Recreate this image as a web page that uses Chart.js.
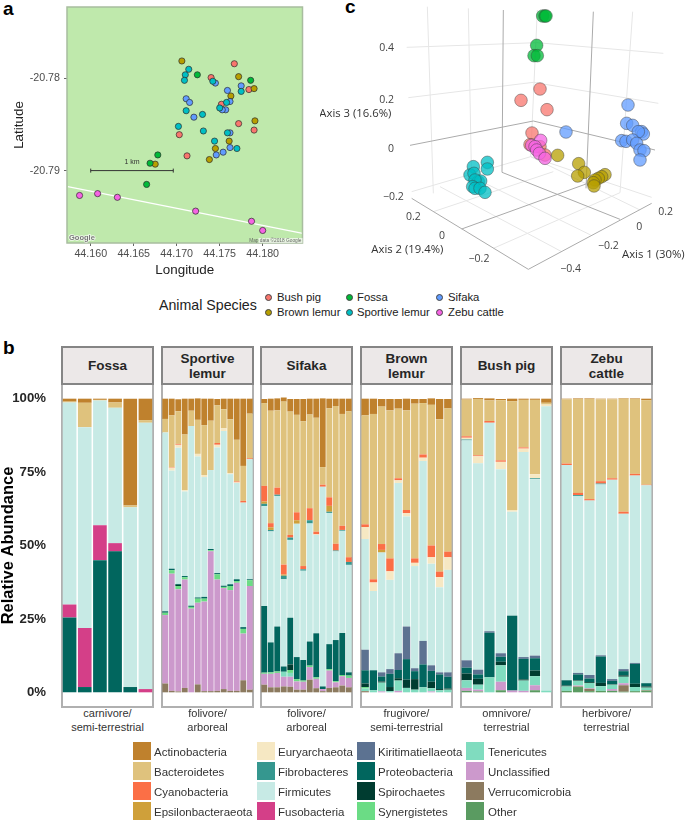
<!DOCTYPE html>
<html><head><meta charset="utf-8">
<script src="https://cdn.jsdelivr.net/npm/chart.js@4"></script>
<style>
html,body{margin:0;padding:0;background:#fff;width:685px;height:822px;overflow:hidden}
body{position:relative;font-family:"Liberation Sans",Arial,sans-serif}
canvas{position:absolute}
.t{position:absolute;white-space:nowrap}
.tag{font-weight:bold;font-size:19px;color:#000;line-height:19px}
.strip{position:absolute;box-sizing:border-box;background:#ece8e8;border:2px solid #858585;display:flex;align-items:center;justify-content:center;text-align:center;font-weight:bold;font-size:13.5px;line-height:15px;color:#262626}
.panel{position:absolute;box-sizing:border-box;background:#fff;border:2px solid #b0b0b0;border-top:none}
.cap{position:absolute;text-align:center;font-size:11px;line-height:13.5px;color:#333;white-space:nowrap}
.sw{position:absolute;width:18px;height:18px}
.lg{position:absolute;font-size:11.5px;line-height:14px;color:#333;white-space:nowrap}
.dot{position:absolute;width:5px;height:5px;border-radius:50%;border:.7px solid #444}
.sp{position:absolute;font-size:11.3px;line-height:14px;color:#222;white-space:nowrap}
</style></head><body>
<div class="t tag" style="left:3px;top:-1px">a</div>
<div class="t tag" style="left:345px;top:-3px">c</div>
<div class="t tag" style="left:3px;top:338px">b</div>
<canvas id="map" width="320" height="280" style="left:0;top:0"></canvas>
<canvas id="pcoa" width="365" height="280" style="left:320px;top:0"></canvas>
<div class="t" style="left:159px;top:296px;font-size:14.2px;line-height:18px;color:#222">Animal Species</div>
<div id="legendA"></div>
<div id="facets"></div>
<div id="legendB"></div>
<script>
// ---------- Panel a: site map ----------
const speciesNames = ["Bush pig","Brown lemur","Fossa","Sifaka","Sportive lemur","Zebu cattle"];
const speciesColors = ["#f8766d","#b79f00","#00ba38","#619cff","#00bfc4","#f564e3"];
const lonTicks = [44.160,44.165,44.170,44.175,44.180];
const latTicks = [-20.78,-20.79];
const bushPigSites = [[44.1767,-20.7784],[44.1740,-20.7799],[44.1784,-20.7812],[44.1752,-20.7828],[44.1772,-20.7849],[44.1790,-20.7856],[44.1703,-20.7861],[44.1712,-20.7884]];
const brownLemurSites = [[44.1706,-20.7781],[44.1772,-20.7798],[44.1790,-20.7811],[44.1763,-20.7819],[44.1791,-20.7846],[44.1761,-20.7868],[44.1745,-20.7876],[44.1738,-20.7888],[44.1675,-20.7893]];
const fossaSites = [[44.1724,-20.7796],[44.1786,-20.7802],[44.1678,-20.7883],[44.1669,-20.7892],[44.1665,-20.7915]];
const sifakaSites = [[44.1745,-20.7805],[44.1759,-20.7813],[44.1775,-20.7808],[44.1711,-20.7822],[44.1715,-20.7826],[44.1762,-20.7825],[44.1757,-20.7834],[44.1753,-20.7834],[44.1720,-20.7842],[44.1762,-20.7859],[44.1762,-20.7875],[44.1754,-20.7880],[44.1746,-20.7883]];
const sportiveSites = [[44.1714,-20.7790],[44.1710,-20.7796],[44.1709,-20.7802],[44.1742,-20.7803],[44.1775,-20.7814],[44.1758,-20.7826],[44.1750,-20.7832],[44.1711,-20.7835],[44.1730,-20.7839],[44.1702,-20.7852],[44.1731,-20.7857],[44.1759,-20.7859],[44.1744,-20.7868],[44.1770,-20.7876]];
const zebuSites = [[44.1587,-20.7927],[44.1608,-20.7925],[44.1631,-20.7929],[44.1722,-20.7944],[44.1787,-20.7955],[44.1800,-20.7965]];
const roadLine = [[44.15733,-20.79174],[44.18465,-20.79681]];
const scaleBar = [[44.1600,-20.7900],[44.1696,-20.7900]];

// ---------- Panel c: PCoA view (positions as read on the picture's view plane) ----------
const fossaPcoa = [[668,48],[675,48],[678,48],[650,136],[642,167],[652,167]];
const bushPigPcoa = [[660,267],[603,301],[681,329],[636,399],[630,434],[660,440],[675,465]];
const sifakaPcoa = [[738,396],[924,315],[920,370],[938,376],[965,395],[970,402],[955,395],[905,422],[918,424],[938,420],[950,430],[960,450],[972,452],[960,480]];
const brownPcoa = [[713,466],[776,491],[793,517],[773,528],[855,524],[845,530],[835,535],[825,540],[820,548],[822,558]];
const sportivePcoa = [[502,487],[502,507],[460,500],[450,525],[462,520],[475,545],[482,543],[465,540],[458,560],[465,565],[480,565],[495,577]];
const zebuPcoa = [[662,421],[635,436],[645,440],[650,450],[658,460],[675,475]];
const gridLight = [[260,142,650,128],[650,128,1030,160],[265,293,640,247],[640,247,1015,310],[275,575,632,470],[632,470,995,592],[652,30,632,470],[322,20,340,580],[445,25,455,555],[938,35,900,578],[340,635,700,515],[520,745,900,578],[725,755,360,560],[812,705,455,530],[960,630,632,470]];
const gridDark = [[550,30,546,517],[820,35,798,565],[270,436,640,363],[640,363,1005,450],[546,517,900,658],[798,552,425,687],[275,595,625,808],[625,808,995,610]];
const pcoaTickText = [["0.4",200,143],["0.2",200,299],["0",213,448],["−0.2",220,590],["0.2",280,652],["0",366,708],["−0.2",477,778],["−0.4",752,806],["−0.2",865,737],["0",958,682],["0.2",1037,636]];
const pcoaAxisText = [["Axis 3 (16.6%)",106,340],["Axis 2 (19.4%)",262,748],["Axis 1 (30%)",1000,763]];

// ---------- Panel b: relative abundance ----------
const phyla = ["Actinobacteria","Bacteroidetes","Cyanobacteria","Epsilonbacteraeota","Euryarchaeota","Fibrobacteres","Firmicutes","Fusobacteria","Kiritimatiellaeota","Proteobacteria","Spirochaetes","Synergistetes","Tenericutes","Unclassified","Verrucomicrobia","Other"];
const phylaColors = ["#bf812d","#dfc27d","#fb6f46","#cfa03a","#f6e8c3","#35978f","#c7eae5","#d43f88","#5c7291","#01665e","#003c30","#6bdc85","#80dcbf","#cc99cc","#8c7a5f","#5a9b61"];
const facetNames = [["Fossa"],["Sportive","lemur"],["Sifaka"],["Brown","lemur"],["Bush pig"],["Zebu","cattle"]];
const dietLabels = [["carnivore/","semi-terrestrial"],["folivore/","arboreal"],["folivore/","arboreal"],["frugivore/","semi-terrestrial"],["omnivore/","terrestrial"],["herbivore/","terrestrial"]];
const percentTicks = [0,25,50,75,100];
// each row: one sample, values in the order of `phyla`
const fossaBars = [
[1,.3,0,0,0,0,68.8,4.4,0,25.5],
[1.4,8.3,0,0,0,0,68.4,20.1,0,1.8],
[.4,.2,0,0,0,0,42.5,11.9,0,45],
[1.3,1.8,0,0,0,0,46.1,2.8,0,48],
[36.4,.6,0,0,0,0,61.2,0,0,1.8],
[7.3,.9,0,0,0,0,90.7,1.1]];
const sportiveBars = [
[6.9,4.6,0,0,0,0,60.9,0,0,.5,0,.8,0,23.3,3],
[5.7,17.6,.2,0,1,0,33.4,0,0,.5,0,1.2,0,39.9,.5],
[4.1,11.1,.3,0,1,0,46.4,0,0,.3,.4,1.1,0,34.8,.3],
[12.2,19,0,0,.4,0,28.8,0,0,.4,0,.8,0,36.9,1.5],
[4.1,5.2,0,0,0,0,61.2,0,0,.4,0,.6,0,28.5],
[7.3,11.6,0,0,.9,0,48,0,0,.4,0,1.4,0,27.8,2.7],
[9,17,0,0,.7,0,40.8,0,0,.6,0,1,0,30.5,.4],
[7.5,16.8,0,0,0,0,26.9,0,0,.4,0,.4,0,47.6,.4],
[2.2,12.8,.6,0,.9,0,42.8,0,0,.4,0,1.8,0,37.9,.5],
[3.6,6.5,0,0,.9,0,52.7,0,0,.4,0,.4,0,34.4,1.1],
[7,18.4,0,0,.3,0,37.5,0,0,.6,0,1.4,0,34.3,.5],
[14,14.2,.3,0,.2,0,32.8,0,0,.6,0,.6,0,36.8,.5],
[22.9,11.9,.6,0,0,0,42.4,0,0,.6,0,1.6,0,15.9,4.1],
[5.1,15.2,.3,0,0,0,40.9,0,0,.3,0,2,0,35.3,.9]];
const sifakaBars = [
[1.4,28.2,5.3,.8,0,.8,34,0,0,22.7,0,.4,0,3.7,2.6],
[4.1,38.3,1.4,.9,0,.5,37.8,0,0,10.2,0,.5,0,4.6,1.7],
[4.1,26.3,2.4,0,0,.4,44.5,0,0,15.3,0,.5,0,4.9,1.7],
[1.4,55.5,3.4,.4,0,1.2,29.7,0,0,1.8,0,0,1.7,3.3,2],
[4.3,42,.9,0,0,.8,26.5,0,0,15.9,1.9,1,1.3,3.4,1.9],
[5.4,33.2,2.7,1.2,0,0,45.4,0,0,7.5,0,.8,0,2.8,.9],
[7.6,49.3,1.1,0,0,.5,30.4,0,0,7,0,.4,0,2.7,.9],
[5.4,31.9,4.1,0,0,1.1,40.2,0,0,8.2,0,.5,0,4.3,4.3],
[6.5,38.8,.9,0,.2,0,33.5,0,0,15,0,.5,0,3.2,1.4],
[23.4,6,.7,0,0,0,68,0,0,.9,0,0,0,.7,.4],
[3.3,30.3,2.9,2,0,.4,44.7,0,0,8.5,0,.5,0,5.9,1.5],
[2.5,46.9,2.3,0,0,.3,30.2,0,0,14,0,.4,0,1.7,1.7],
[5.2,38.1,1.4,0,0,.3,34.8,0,0,14.3,0,.4,0,3.2,2.3],
[4.3,49.7,1.6,0,0,1,36.6,0,0,1.1,0,.8,0,3.2,1.7]];
const brownLemurBars = [
[5.7,37.1,.9,0,4.1,0,37.7,0,7,4.5,1.2,.5,.9,0,.4],
[5.2,56.3,1.1,0,2.9,0,27,0,0,6.8,0,0,.7],
[2.6,46.8,2,.9,0,0,40.8,0,1.4,1.7,.4,0,3,.3],
[3.9,50.4,4.4,0,2.9,0,30.4,0,1.6,4.5,1.4,0,.4],
[3.3,23.7,.7,0,.9,0,58,0,5.7,2.8,.8,0,3.5,.5],
[4,33.9,1.1,0,1.1,0,37.5,0,11.1,7,2.8,0,1.5],
[1.6,52.7,1.5,0,1.1,0,34.8,0,1,2.7,3.6,0,.9],
[1.4,17.5,1.1,0,1.1,0,61.3,0,8,7.8,0,0,1.7],
[2.2,47.9,4,0,2.2,0,34.6,0,1.9,3.7,2.2,0,1.1,.3],
[6.9,51.9,1.9,0,3.4,0,29,0,.7,5,.4,0,.7],
[3.2,48.8,1.9,0,4.3,0,34.9,0,1.5,4,.4,0,.9]];
const bushPigBars = [
[.3,12.5,.5,0,.6,.3,74.9,0,2.5,2,2.3,0,2.6,1,0,.5],
[.3,19.2,.3,0,2.4,0,70.3,0,1.6,1.5,2,0,1.7,.6,0,.3],
[.7,7,.6,0,0,0,71,0,.5,15.2,0,0,5.1],
[.4,20.5,.5,0,2.5,0,62.7,0,1.2,1.7,1.2,0,5.6,2.9,0,.7],
[.9,37,0,0,.6,0,35.4,0,0,25.5,0,0,0,.6],
[.4,16.2,.4,0,1.2,0,69.8,0,.6,7,.4,0,3.5,.5],
[.4,25.3,0,0,1.4,.3,60.1,0,.9,4.2,1.9,0,3.1,1.7,0,.7],
[1.4,.6,0,0,.6,0,96.8,0,0,0,0,0,.6]];
const zebuBars = [
[.2,21.9,.5,0,0,0,73.3,0,0,1.8,.3,0,1.5,0,0,.5],
[.2,32,.7,0,0,.3,60.3,0,.5,2,.2,0,1.6,.3,.2,1.8],
[.2,34.1,.5,0,0,0,59.4,0,1.2,1.2,.3,0,1.8,.2,.8,.4],
[.2,27.9,.8,0,0,.3,58.2,0,.4,9,1.1,0,1.6,0,0,.5],
[.2,26.9,.5,0,0,0,67.9,0,.6,1.1,.2,0,1.5,.6,0,.5],
[.2,38.5,.7,0,0,0,52.9,0,.7,1.4,.5,0,2.2,.7,2.2,.2],
[.2,25.5,.6,0,0,0,63.8,0,.3,6.8,1.1,0,1.4,0,0,.4],
[.5,28.8,.2,0,0,0,67.4,0,0,1.1,.4,0,.9,0,.2,.5]];
const allBars = [fossaBars,sportiveBars,sifakaBars,brownLemurBars,bushPigBars,zebuBars];

// ---------- layout only ----------
const facetLeft = [61,161,260,360,460,560];
Chart.defaults.font.family = '"Liberation Sans",Arial,sans-serif';
Chart.defaults.animation = false;
Chart.defaults.responsive = false;
Chart.defaults.devicePixelRatio = 1;
const toXY = a => a.map(p => ({x:p[0],y:p[1]}));
const noPad = s => {s.paddingTop=0;s.paddingBottom=0;s.paddingLeft=0;s.paddingRight=0;};

// Panel a
const mapDecor = {
  id:'mapDecor',
  beforeDatasetsDraw(c){
    const {ctx,chartArea:A} = c;
    ctx.save();
    ctx.fillStyle='#bfe9ac';
    ctx.fillRect(A.left,A.top,A.width,A.height);
    ctx.restore();
  },
  afterDatasetsDraw(c){
    const {ctx,chartArea:A} = c;
    ctx.save();
    ctx.strokeStyle='#a8bd9f'; ctx.lineWidth=1.5;
    ctx.strokeRect(A.left,A.top,A.width,A.height);
    ctx.fillStyle='#333'; ctx.font='7px "Liberation Sans"'; ctx.textAlign='center'; ctx.textBaseline='middle';
    ctx.fillText('1 km',c.scales.x.getPixelForValue(44.1648),c.scales.y.getPixelForValue(-20.7892)-1);
    ctx.fillStyle='rgba(255,255,255,.65)'; ctx.fillRect(A.right-44,A.bottom-5,44,5);
    ctx.fillStyle='#666'; ctx.font='4.8px "Liberation Sans"'; ctx.textAlign='right';
    ctx.fillText('Map data ©2018 Google',A.right-1,A.bottom-2.5);
    ctx.font='bold 7.5px "Liberation Sans"'; ctx.textAlign='left';
    ctx.lineWidth=1.5; ctx.strokeStyle='rgba(255,255,255,.8)';
    ctx.strokeText('Google',A.left+2,A.bottom-5);
    ctx.fillStyle='#777'; ctx.fillText('Google',A.left+2,A.bottom-5);
    ctx.restore();
  }
};
const siteSets = [zebuSites,sportiveSites,sifakaSites,fossaSites,brownLemurSites,bushPigSites];
const siteIdx = [5,4,3,2,1,0];
new Chart(document.getElementById('map'),{
  type:'scatter',
  data:{datasets:[
    ...siteSets.map((s,i)=>({label:speciesNames[siteIdx[i]],data:toXY(s),backgroundColor:speciesColors[siteIdx[i]],borderColor:'#2b2b2b',borderWidth:.7,pointRadius:3.1})),
    {label:'1 km',data:toXY(scaleBar),showLine:true,borderColor:'#333',borderWidth:1,pointStyle:'line',pointRotation:90,pointRadius:2,pointBorderColor:'#333',pointBorderWidth:1},
    {label:'road',data:toXY(roadLine),showLine:true,borderColor:'#fff',borderWidth:1.2,pointRadius:0}
  ]},
  options:{
    layout:{padding:{top:7,right:17.5,left:0,bottom:0},autoPadding:false},
    plugins:{legend:{display:false},tooltip:{enabled:false}},
    scales:{
      x:{min:44.15724,max:44.18463,grid:{drawOnChartArea:false,tickLength:3,color:'#666'},border:{display:false},
        afterBuildTicks(s){s.ticks=lonTicks.map(v=>({value:v}))},afterFit(s){s.height=37;noPad(s)},
        ticks:{color:'#4d4d4d',font:{size:10.7},padding:2,maxRotation:0,callback:v=>v.toFixed(3)},
        title:{display:true,text:'Longitude',color:'#222',font:{size:13.4},padding:2}},
      y:{min:-20.79786,max:-20.77224,grid:{drawOnChartArea:false,tickLength:3,color:'#666'},border:{display:false},
        afterBuildTicks(s){s.ticks=latTicks.map(v=>({value:v}))},afterFit(s){s.width=67;noPad(s)},
        ticks:{color:'#4d4d4d',font:{size:10.7},padding:4,callback:v=>v.toFixed(2)},
        title:{display:true,text:'Latitude',color:'#222',font:{size:13.4},padding:11}}
    }
  },
  plugins:[mapDecor]
});

// Legend a
const lgA=document.getElementById('legendA');
const spPos=[[268,297],[268,312],[349,297],[439,297],[349,312],[439,312]];
const spTxt=[277,277,357,448,357,448];
speciesNames.forEach((n,i)=>{
  const d=document.createElement('div');d.className='dot';
  d.style.cssText=`left:${spPos[i][0]-3}px;top:${spPos[i][1]-3}px;background:${speciesColors[i]}`;
  lgA.appendChild(d);
  const t=document.createElement('div');t.className='sp';t.textContent=n;
  t.style.cssText=`left:${spTxt[i]}px;top:${spPos[i][1]-7}px`;
  lgA.appendChild(t);
});

// Panel c
const pcoaText = {
  id:'pcoaText',
  afterDatasetsDraw(c){
    const {ctx,scales:{x,y}} = c;
    ctx.save();
    ctx.textAlign='center';ctx.textBaseline='middle';
    ctx.fillStyle='#444';ctx.font='10.5px "Open Sans"';
    pcoaTickText.forEach(t=>ctx.fillText(t[0],x.getPixelForValue(t[1]),y.getPixelForValue(t[2])));
    ctx.fillStyle='#333';ctx.font='11.3px "Open Sans"';
    pcoaAxisText.forEach(t=>ctx.fillText(t[0],x.getPixelForValue(t[1]),y.getPixelForValue(t[2])));
    ctx.restore();
  }
};
const seg=(s,col,w)=>({data:[{x:s[0],y:s[1]},{x:s[2],y:s[3]}],showLine:true,borderColor:col,borderWidth:w,pointRadius:0});
const pcoaSets=[zebuPcoa,sportivePcoa,sifakaPcoa,fossaPcoa,brownPcoa,bushPigPcoa];
const hexA=(h,a)=>h+Math.round(a*255).toString(16).padStart(2,'0');
new Chart(document.getElementById('pcoa'),{
  type:'scatter',
  data:{datasets:[
    ...pcoaSets.map((s,i)=>({label:speciesNames[siteIdx[i]],data:toXY(s),backgroundColor:hexA(speciesColors[siteIdx[i]],.75),borderColor:'rgba(60,60,60,.55)',borderWidth:.8,pointRadius:6.3})),
    ...gridDark.map(s=>seg(s,'#ababab',1)),
    ...gridLight.map(s=>seg(s,'#e6e6e6',1))
  ]},
  options:{
    layout:{padding:0,autoPadding:false},
    plugins:{legend:{display:false},tooltip:{enabled:false}},
    scales:{x:{type:'linear',display:false,min:0,max:1095},y:{type:'linear',display:false,min:0,max:840,reverse:true}}
  },
  plugins:[pcoaText]
});

// Panel b
const fac=document.getElementById('facets');
allBars.forEach((rows,f)=>{
  const L=facetLeft[f];
  const st=document.createElement('div');st.className='strip';
  st.style.cssText=`left:${L}px;top:346px;width:93px;height:39px`;
  st.innerHTML=facetNames[f].join('<br>');fac.appendChild(st);
  const p=document.createElement('div');p.className='panel';
  p.style.cssText=`left:${L}px;top:385px;width:93px;height:323px`;fac.appendChild(p);
  const cp=document.createElement('div');cp.className='cap';
  cp.style.cssText=`left:${L-10}px;width:113px;top:707px`;
  cp.innerHTML=dietLabels[f].join('<br>');fac.appendChild(cp);
  const cv=document.createElement('canvas');
  const first=f===0, axisW=62;
  cv.width=first?axisW+91:91;cv.height=323;
  cv.style.cssText=`left:${first?0:L+1}px;top:384px`;
  fac.appendChild(cv);
  const labels=rows.map((_,i)=>String(i+1));
  const datasets=phyla.map((n,k)=>({label:n,data:rows.map(r=>r[k]||0),backgroundColor:phylaColors[k],barPercentage:.9,categoryPercentage:1,stack:'s'})).reverse();
  new Chart(cv,{type:'bar',data:{labels,datasets},options:{
    layout:{padding:0,autoPadding:false},
    plugins:{legend:{display:false},tooltip:{enabled:false}},
    scales:{
      x:{stacked:true,display:false},
      y:{stacked:true,min:-5,max:105,display:first,grid:{display:false},border:{display:false},
        afterBuildTicks(s){s.ticks=percentTicks.map(v=>({value:v}))},
        afterFit(s){s.width=first?axisW:0;noPad(s)},
        ticks:{color:'#262626',font:{size:13.2,weight:'bold'},padding:8,callback:v=>v+'%'},
        title:{display:true,text:'Relative Abundance',color:'#000',font:{size:16.5,weight:'bold',lineHeight:1},padding:0}}
    }
  }});
});

// Legend b
const lgB=document.getElementById('legendB');
const colX=[133,257,357,466], txtX=[154,278,378,488];
phyla.forEach((n,i)=>{
  const c=Math.floor(i/4), r=i%4, y=742+r*20;
  const s=document.createElement('div');s.className='sw';
  s.style.cssText=`left:${colX[c]}px;top:${y}px;background:${phylaColors[i]}`;lgB.appendChild(s);
  const t=document.createElement('div');t.className='lg';t.textContent=n;
  t.style.cssText=`left:${txtX[c]}px;top:${y+2.5}px`;lgB.appendChild(t);
});
</script>
</body></html>
